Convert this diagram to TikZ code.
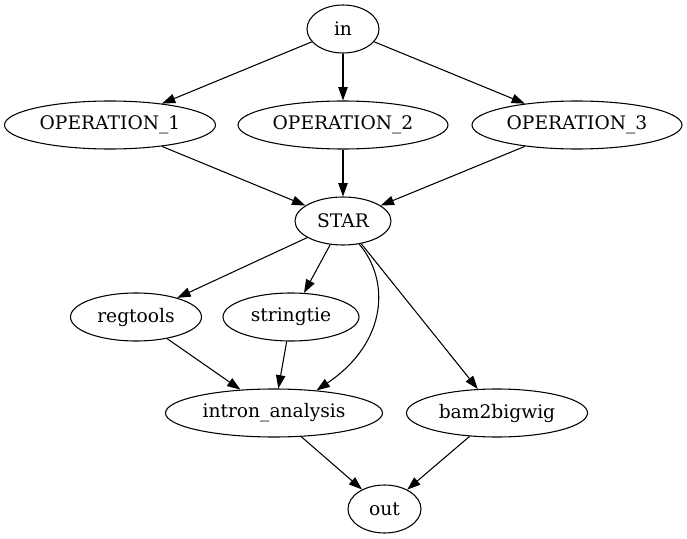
\documentclass[tikz,border=0pt]{standalone}
\usepackage{fontspec}
\setmainfont{DejaVu Serif}
\usetikzlibrary{shapes.geometric,arrows.meta}
\tikzset{
  gnode/.style={ellipse, draw, line width=0.8pt, inner sep=0pt, minimum height=36pt, font=\fontsize{14pt}{16pt}\selectfont},
  arr/.style={line width=0.8pt, -{Triangle[length=10pt,width=7pt]}},
}
\begin{document}
\begin{tikzpicture}[x=0.75pt,y=-0.75pt]
\useasboundingbox (0,0) rectangle (687,539);
\node[gnode, minimum width=54pt] (in) at (343,29) {in};
\node[gnode, minimum width=158.25pt] (op1) at (110,125) {OPERATION\_1};
\node[gnode, minimum width=157.5pt] (op2) at (343,125) {OPERATION\_2};
\node[gnode, minimum width=157.5pt] (op3) at (577,125) {OPERATION\_3};
\node[gnode, minimum width=72pt] (star) at (343,221) {STAR};
\node[gnode, minimum width=98.25pt] (regtools) at (136,317) {regtools};
\node[gnode, minimum width=102pt] (stringtie) at (291,317) {stringtie};
\node[gnode, minimum width=162.75pt] (intron) at (274,413) {intron\_analysis};
\node[gnode, minimum width=135.75pt] (bam) at (497,413) {bam2bigwig};
\node[gnode, minimum width=54.75pt] (out) at (384.5,509) {out};

\draw[arr] (in) -- (op1);
\draw[arr] (in) -- (op2);
\draw[arr] (in) -- (op3);
\draw[arr] (op1) -- (star);
\draw[arr] (op2) -- (star);
\draw[arr] (op3) -- (star);
\draw[arr] (star) -- (regtools);
\draw[arr] (star) -- (stringtie);
\draw[arr] (star.-55) .. controls (390,280) and (388,342) .. (intron.28);
\draw[arr] (star) -- (bam);
\draw[arr] (regtools) -- (intron);
\draw[arr] (stringtie) -- (intron);
\draw[arr] (intron) -- (out);
\draw[arr] (bam) -- (out);
\end{tikzpicture}
\end{document}
